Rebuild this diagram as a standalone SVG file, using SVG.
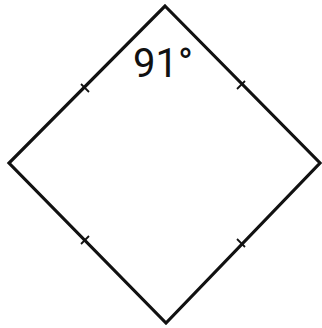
<svg xmlns="http://www.w3.org/2000/svg" width="322" height="328" viewBox="0 0 322 328">
<style>
.edge{fill:none;stroke:#111;stroke-width:3.2;stroke-linejoin:miter}
.tick{stroke:#111;stroke-width:1.8}
.lbl{font-family:Roboto,"Liberation Sans",sans-serif;font-size:40px;fill:#111}
</style>
<rect width="322" height="328" fill="#fff"/>
<g id="rhombus">
<polygon class="edge" points="165,6 320,163 166,323 9,163"/>
</g>
<g id="connectors">
<line class="tick" x1="81" y1="84" x2="89" y2="92"/>
<line class="tick" x1="237" y1="89" x2="245" y2="81"/>
<line class="tick" x1="81" y1="244" x2="89" y2="236"/>
<line class="tick" x1="237" y1="239" x2="245" y2="247"/>
</g>
<g id="angle">
<text class="lbl" x="163" y="77" text-anchor="middle">91°</text>
</g>
</svg>
